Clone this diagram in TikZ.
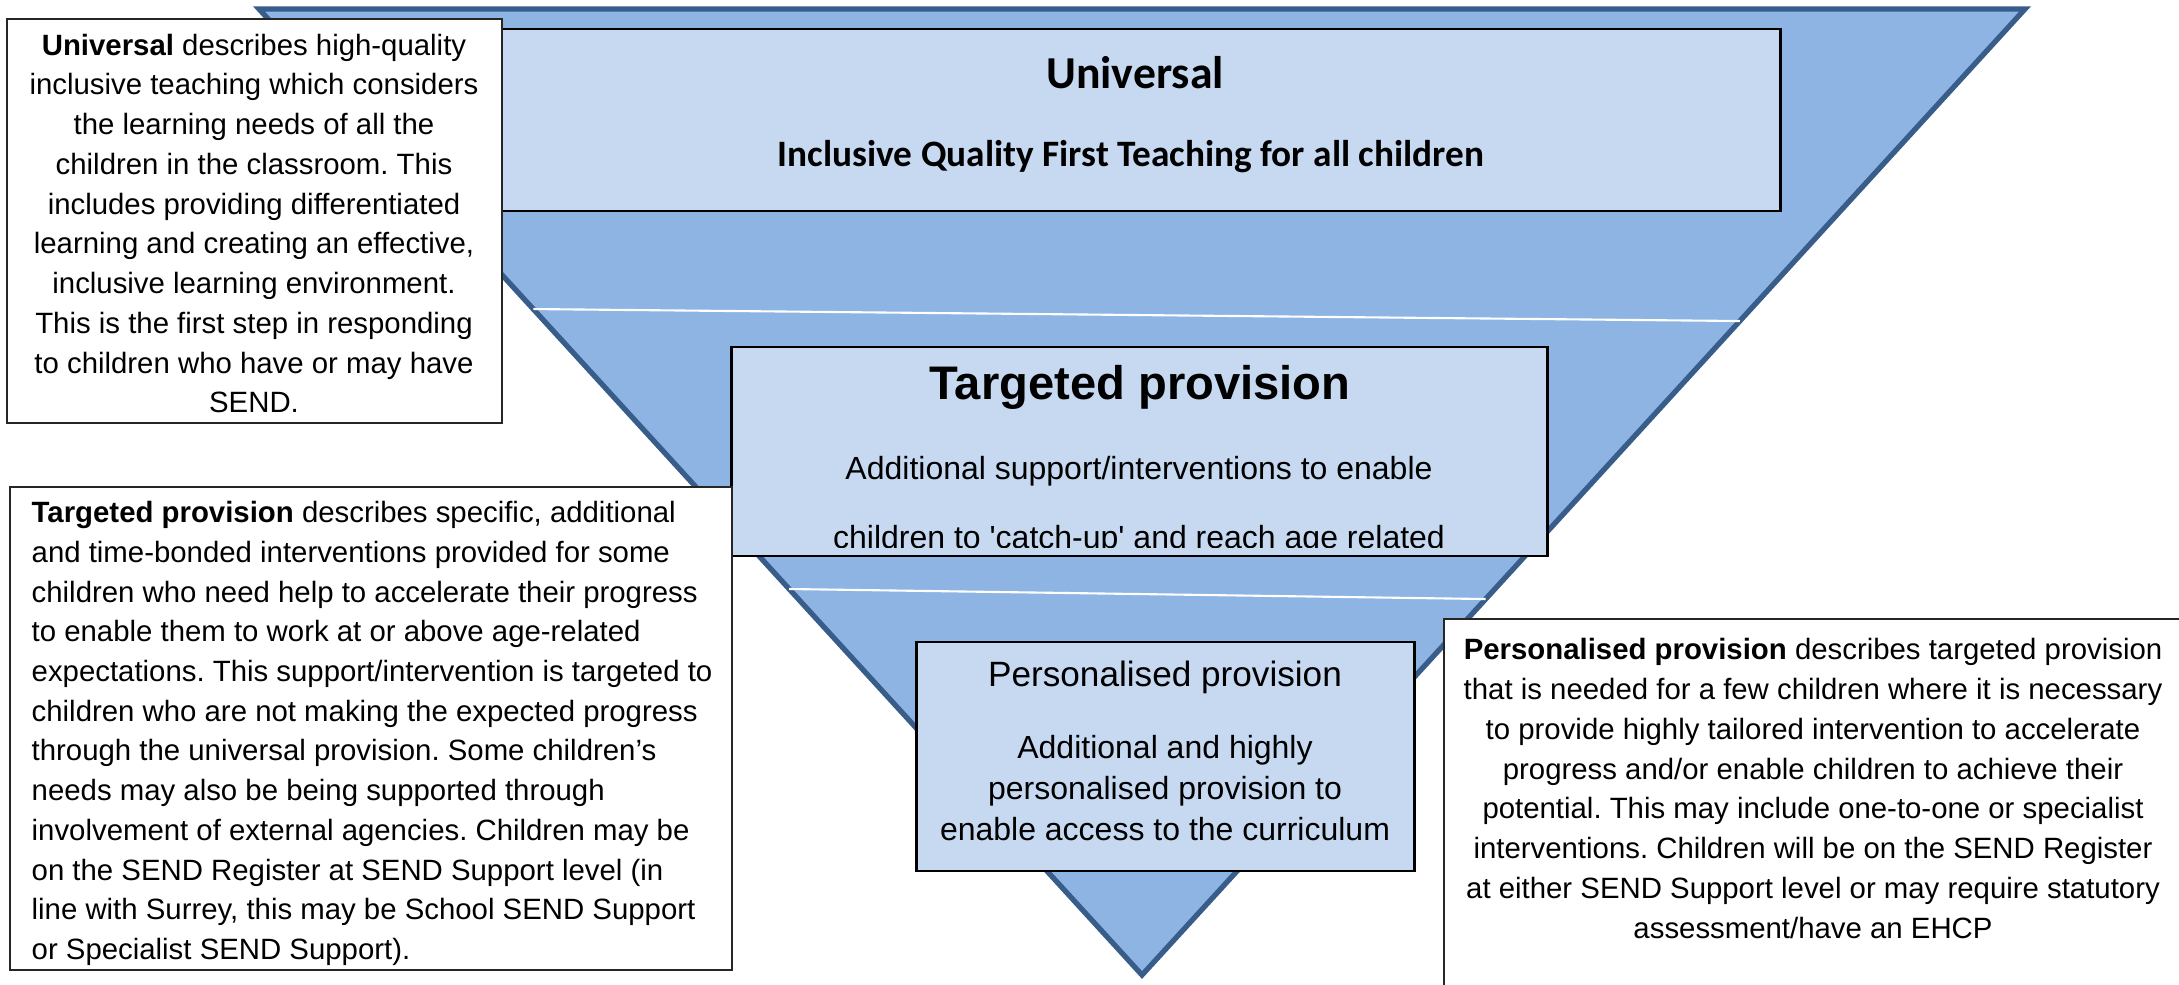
\documentclass[tikz,border=0pt]{standalone}
\usepackage{fontspec}
\setmainfont{Liberation Sans}[Ligatures=TeXOff]
\newfontfamily\calibrifont{Carlito}
\usetikzlibrary{calc}
\definecolor{pyrfill}{HTML}{8EB4E3}
\definecolor{pyredge}{HTML}{385D8A}
\definecolor{tierfill}{HTML}{C6D9F1}
\tikzset{
  tierbox/.style={draw=black, line width=0.8pt, fill=tierfill, inner sep=0pt, outer sep=0pt},
  descbox/.style={draw=black!85, line width=0.6pt, fill=white, inner sep=0pt, outer sep=0pt},
  desctext/.style={font=\frenchspacing\fontsize{8.35}{11.3}\selectfont, inner sep=0pt},
  tierbody/.style={font=\fontsize{9.1}{11.7}\selectfont, inner sep=0pt},
  divider/.style={white, line width=0.6pt}
}
\begin{document}
\begin{tikzpicture}[x=0.01cm,y=-0.01cm]
\useasboundingbox (0,0) rectangle (2179,984);
\fill[white] (0,0) rectangle (2179,984);

% inverted pyramid
\coordinate (A) at (259,9);
\coordinate (B) at (2025,9);
\coordinate (C) at (1142,975);
\draw[pyredge, line width=1.5pt, fill=pyrfill] (A) -- (B) -- (C) -- cycle;

% tier dividers
\coordinate (s1l) at ($(A)!0.3106!(C)$);
\coordinate (s1r) at ($(B)!0.3230!(C)$);
\coordinate (s2l) at ($(A)!0.6004!(C)$);
\coordinate (s2r) at ($(B)!0.6108!(C)$);
\draw[divider] (s1l) -- (s1r);
\draw[divider] (s2l) -- (s2r);

% universal tier
\node[tierbox, minimum width=12.79cm, minimum height=1.82cm] (ubox) at (1140.5,120) {};
\node[font=\calibrifont\bfseries\fontsize{13}{15}\selectfont, inner sep=0pt] (utitle) at (1135,73) {Universal};
\node[font=\calibrifont\bfseries\fontsize{10.6}{13}\selectfont, inner sep=0pt] (usub) at (1131,157) {Inclusive Quality First Teaching for all children};

% targeted tier
\node[tierbox, minimum width=8.15cm, minimum height=2.09cm] (tbox) at (1139.5,451.5) {};
\node[font=\bfseries\fontsize{13.4}{16}\selectfont, inner sep=0pt] (ttitle) at (1140,387) {Targeted provision};
\begin{scope}
  \clip (733,348) rectangle (1546,547);
  \node[tierbody] (tline1) at (1139,471) {Additional support/interventions to enable};
  \node[tierbody] (tline2) at (1139,540) {children to 'catch-up' and reach age related};
\end{scope}

% personalised tier
\node[tierbox, minimum width=4.97cm, minimum height=2.29cm] (pbox) at (1165.5,756.5) {};
\node[font=\fontsize{10}{12}\selectfont, inner sep=0pt] (ptitle) at (1165,677) {Personalised provision};
\node[tierbody, align=center] (pbody) at (1165,788) {Additional and highly\\personalised provision to\\enable access to the curriculum};

% explanatory boxes
\node[descbox, minimum width=4.95cm, minimum height=4.04cm] (udesc) at (254.5,221) {};
\node[desctext, align=center] (udesctext) at (254,223.5)
 {\textbf{Universal} describes high-quality\\
  inclusive teaching which considers\\
  the learning needs of all the\\
  children in the classroom. This\\
  includes providing differentiated\\
  learning and creating an effective,\\
  inclusive learning environment.\\
  This is the first step in responding\\
  to children who have or may have\\
  SEND.};

\node[descbox, minimum width=7.215cm, minimum height=4.83cm] (tdesc) at (371.25,728.5) {};
\node[desctext, align=left, anchor=west] (tdesctext) at (31,733.5)
 {\textbf{Targeted provision} describes specific, additional\\
  and time-bonded interventions provided for some\\
  children who need help to accelerate their progress\\
  to enable them to work at or above age-related\\
  expectations. This support/intervention is targeted to\\
  children who are not making the expected progress\\
  through the universal provision. Some children’s\\
  needs may also be being supported through\\
  involvement of external agencies. Children may be\\
  on the SEND Register at SEND Support level (in\\
  line with Surrey, this may be School SEND Support\\
  or Specialist SEND Support).};

\node[descbox, minimum width=7.39cm, minimum height=3.9cm] (pdesc) at (1813.5,814) {};
\node[desctext, align=center] (pdesctext) at (1813,788.5)
 {\textbf{Personalised provision} describes targeted provision\\
  that is needed for a few children where it is necessary\\
  to provide highly tailored intervention to accelerate\\
  progress and/or enable children to achieve their\\
  potential. This may include one-to-one or specialist\\
  interventions. Children will be on the SEND Register\\
  at either SEND Support level or may require statutory\\
  assessment/have an EHCP};
\end{tikzpicture}
\end{document}
